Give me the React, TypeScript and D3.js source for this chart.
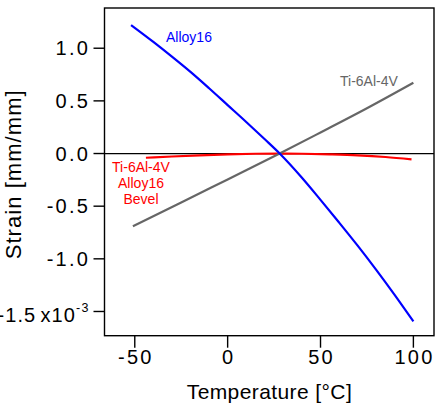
import React from "react";
import * as d3 from "d3";

// Alloy16 (blue) strain x1e-3 vs temperature
const alloyTemps = [-52, -40, -30, -20, -10, 0, 10, 20, 28, 40, 50, 60, 70, 80, 90, 100];
const alloyStrain = [1.22, 1.06, 0.92, 0.775, 0.62, 0.46, 0.30, 0.135, 0.0, -0.23, -0.44, -0.655, -0.875, -1.105, -1.345, -1.595];

// Ti-6Al-4V (gray)
const tiTemps = [-51, -25, 0, 28, 50, 75, 100];
const tiStrain = [-0.69, -0.466, -0.246, 0.0, 0.2, 0.43, 0.672];

// Ti-6Al-4V / Alloy16 bevel (red)
const bevelTemps = [-44, -30, -15, 0, 15, 28, 40, 55, 70, 85, 99];
const bevelStrain = [-0.04, -0.028, -0.017, -0.008, -0.002, 0.0, -0.002, -0.008, -0.017, -0.033, -0.055];

const xTicks = [-50, 0, 50, 100];
const yTicks = [1.0, 0.5, 0.0, -0.5, -1.0, -1.5];

const W = 436;
const H = 408;
const L = 104.5, R = 434, T = 8, B = 335.7;
const TICK = 11;
const FONT = "Arial, 'Liberation Sans', Helvetica, sans-serif";

export default function App() {
  const x = d3.scaleLinear().domain([-66.3, 111.1]).range([L, R]);
  const y = d3.scaleLinear().domain([-1.73, 1.382]).range([B, T]);

  const line = d3
    .line<[number, number]>()
    .x((d) => x(d[0]))
    .y((d) => y(d[1]))
    .curve(d3.curveMonotoneX);

  const zip = (a: number[], b: number[]) => a.map((v, i) => [v, b[i]] as [number, number]);

  const series = [
    { pts: zip(bevelTemps, bevelStrain), color: "#ff0000" },
    { pts: zip(tiTemps, tiStrain), color: "#666666" },
    { pts: zip(alloyTemps, alloyStrain), color: "#0000ff" },
  ];

  return (
    <svg
      width={W}
      height={H}
      style={{ position: "absolute", left: 0, top: 0, background: "#fff" }}
      fontFamily={FONT}
    >
      <rect x={0} y={0} width={W} height={H} fill="#fff" />
      {/* zero line */}
      <line x1={L} x2={R} y1={y(0)} y2={y(0)} stroke="#000" strokeWidth={1.2} />
      {series.map((s, i) => (
        <path key={i} d={line(s.pts) || ""} fill="none" stroke={s.color} strokeWidth={2.2} />
      ))}
      {/* frame */}
      <rect x={L} y={T} width={R - L} height={B - T} fill="none" stroke="#000" strokeWidth={1.4} />
      {/* y ticks */}
      {yTicks.map((t) => {
        const last = t === -1.5;
        return (
          <g key={t}>
            <line x1={L - TICK} x2={L} y1={y(t)} y2={y(t)} stroke="#000" strokeWidth={1.4} />
            <text
              x={L - TICK - 3.5}
              y={last ? y(t) + 3.5 : y(t)}
              dy="0.35em"
              textAnchor="end"
              fontSize={20}
              letterSpacing={last ? 1.0 : 2.2}
              wordSpacing={-2}
              fill="#000"
            >
              {t.toFixed(1)}
              {last ? " x10" : ""}
              {last ? (
                <tspan dy={-10} fontSize={12.5} letterSpacing={1.5}>
                  -3
                </tspan>
              ) : null}
            </text>
          </g>
        );
      })}
      {/* x ticks */}
      {xTicks.map((t) => (
        <g key={t}>
          <line x1={x(t)} x2={x(t)} y1={B} y2={B + TICK + 1} stroke="#000" strokeWidth={1.4} />
          <text x={x(t)} dx={1.1} y={364} textAnchor="middle" fontSize={20} letterSpacing={2.2} fill="#000">
            {t}
          </text>
        </g>
      ))}
      {/* axis titles */}
      <text
        x={(L + R) / 2}
        y={399.3}
        textAnchor="middle"
        fontSize={21}
        textLength={165}
        lengthAdjust="spacing"
        fill="#000"
      >
        Temperature [°C]
      </text>
      <text
        transform={`translate(21, ${(T + B) / 2 + 3}) rotate(-90)`}
        textAnchor="middle"
        fontSize={22}
        textLength={169}
        lengthAdjust="spacing"
        fill="#000"
      >
        Strain [mm/mm]
      </text>
      {/* series labels */}
      <text x={166} y={41.7} fontSize={14} fill="#0000ff">
        Alloy16
      </text>
      <text x={340} y={85.5} fontSize={14} fill="#666666">
        Ti-6Al-4V
      </text>
      <text x={141} y={172.3} fontSize={14} fill="#ff0000" textAnchor="middle">
        <tspan x={141}>Ti-6Al-4V</tspan>
        <tspan x={141} dy={16}>Alloy16</tspan>
        <tspan x={141} dy={16}>Bevel</tspan>
      </text>
    </svg>
  );
}
